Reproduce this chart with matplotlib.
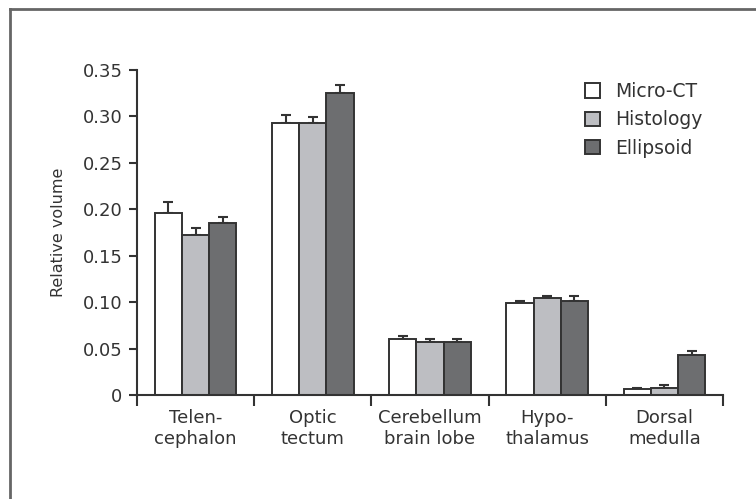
import matplotlib.pyplot as plt
import numpy as np
from matplotlib.lines import Line2D

categories = ["Telen-\ncephalon", "Optic\ntectum", "Cerebellum\nbrain lobe", "Hypo-\nthalamus", "Dorsal\nmedulla"]
series = ["Micro-CT", "Histology", "Ellipsoid"]
micro_ct = [0.196, 0.293, 0.060, 0.099, 0.006]
histology = [0.172, 0.293, 0.057, 0.105, 0.008]
ellipsoid = [0.185, 0.325, 0.057, 0.101, 0.043]
micro_ct_err = [0.012, 0.009, 0.004, 0.002, 0.002]
histology_err = [0.008, 0.006, 0.003, 0.002, 0.003]
ellipsoid_err = [0.007, 0.009, 0.003, 0.006, 0.004]

colors = ["white", "#bdbec2", "#6d6e70"]
edge = "#333333"


def main():
    plt.rcParams['font.family'] = ['DejaVu Sans']
    fig = plt.figure(figsize=(7.56, 4.99), dpi=100)
    ax = fig.add_axes([137 / 756, 1 - 395 / 499, (723 - 137) / 756, (395 - 70) / 499])

    x = np.arange(len(categories)) + 0.5
    w = 0.232
    vals = [micro_ct, histology, ellipsoid]
    errs = [micro_ct_err, histology_err, ellipsoid_err]
    for i in range(3):
        pos = x + (i - 1) * w
        ax.bar(pos, vals[i], width=w, color=colors[i], edgecolor=edge, linewidth=1.4,
               label=series[i], zorder=2)
        ax.errorbar(pos, vals[i], yerr=[np.zeros(len(errs[i])), errs[i]], fmt="none",
                    ecolor=edge, elinewidth=1.5, capsize=3.8, capthick=1.5, zorder=1)

    ax.set_xlim(0, len(categories))
    ax.set_ylim(0, 0.35)
    ax.set_yticks(np.arange(0, 0.351, 0.05))
    ax.set_yticklabels(["0"] + ["%.2f" % v for v in np.arange(0.05, 0.351, 0.05)])
    ax.set_xticks(np.arange(0, len(categories) + 1))
    ax.set_xticklabels([])
    ax.set_xticks(x, minor=True)
    ax.set_xticklabels(categories, minor=True, fontsize=13, color="#333333", linespacing=1.25)
    ax.tick_params(axis="x", which="major", direction="out", length=8, width=1.5, color=edge)
    ax.tick_params(axis="x", which="minor", length=0, pad=10)
    ax.tick_params(axis="y", direction="out", length=6, width=1.5, color=edge,
                   labelsize=13, labelcolor="#333333", pad=4.5)
    ax.set_ylabel("Relative volume", fontsize=11.5, color="#333333", labelpad=12)

    for s in ["top", "right"]:
        ax.spines[s].set_visible(False)
    for s in ["left", "bottom"]:
        ax.spines[s].set_linewidth(1.5)
        ax.spines[s].set_color(edge)

    ax.legend(loc="upper left", bbox_to_anchor=(0.735, 1.015), frameon=False, fontsize=13.5,
              handlelength=0.8, handleheight=0.8, handletextpad=0.85, labelspacing=0.5,
              labelcolor="#333333")

    # cropped frame around the panel
    fig.add_artist(Line2D([10 / 756, 1], [1 - 9 / 499, 1 - 9 / 499], color="#666666", lw=2))
    fig.add_artist(Line2D([10 / 756, 10 / 756], [0, 1 - 9 / 499], color="#666666", lw=2))

    fig.savefig("out.png", dpi=100)


if __name__ == "__main__":
    main()
